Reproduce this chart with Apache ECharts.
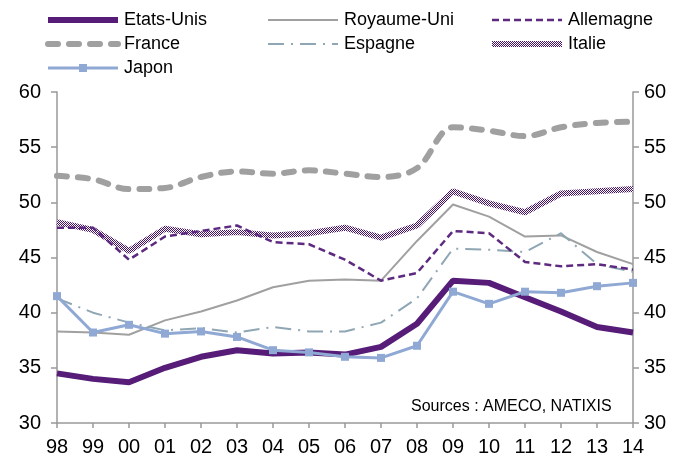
<!DOCTYPE html>
<html><head><meta charset="utf-8">
<script src="https://cdn.jsdelivr.net/npm/echarts@6/dist/echarts.min.js"></script>
<style>html,body{margin:0;padding:0;background:#fff}#c{width:692px;height:458px}</style>
</head><body><div id="c"></div>
<script>
const years = ['98','99','00','01','02','03','04','05','06','07','08','09','10','11','12','13','14'];
const etatsUnis  = [34.5,34.0,33.7,35.0,36.0,36.6,36.3,36.4,36.2,36.9,39.0,42.9,42.7,41.4,40.1,38.7,38.2];
const royaumeUni = [38.3,38.2,38.0,39.3,40.1,41.1,42.3,42.9,43.0,42.9,46.5,49.8,48.7,46.9,47.0,45.5,44.4];
const allemagne  = [47.7,47.7,44.8,46.9,47.4,47.9,46.4,46.2,44.8,42.9,43.6,47.4,47.2,44.6,44.2,44.4,43.9];
const france     = [52.4,52.1,51.2,51.3,52.3,52.8,52.6,52.9,52.6,52.3,53.1,56.8,56.5,56.0,56.8,57.2,57.3];
const espagne    = [41.3,40.0,39.1,38.4,38.6,38.2,38.7,38.3,38.3,39.1,41.3,45.8,45.7,45.5,47.2,44.4,43.7];
const italie     = [48.2,47.5,45.6,47.6,47.1,47.3,47.0,47.2,47.7,46.8,47.9,51.0,49.9,49.1,50.8,51.0,51.2];
const japon      = [41.5,38.2,38.9,38.1,38.3,37.8,36.6,36.4,36.0,35.9,37.0,41.9,40.8,41.9,41.8,42.4,42.7];
const yTicks = [30,35,40,45,50,55,60];

// checkered pattern for Italie
const pc = document.createElement('canvas');
pc.width = 2; pc.height = 2;
const pctx = pc.getContext('2d');
pctx.fillStyle = '#ffffff'; pctx.fillRect(0,0,2,2);
pctx.fillStyle = '#4a0f6c'; pctx.fillRect(0,0,1,1); pctx.fillRect(1,1,1,1);
const italiePattern = {image: pc, repeat: 'repeat'};

const font = 'Liberation Sans, Arial, sans-serif';
const chart = echarts.init(document.getElementById('c'), null, {renderer:'canvas'});
function line(name, data, ls, extra) {
  return Object.assign({
    name, type:'line', data, symbol:'none', showSymbol:false,
    lineStyle: ls, itemStyle:{color: ls.color}, emphasis:{disabled:true}, animation:false
  }, extra || {});
}
function li(name, w, extra) {
  return Object.assign({name, lineStyle:{width:w}}, extra || {});
}
const legendBase = {orient:'vertical', itemWidth:70, itemHeight:10, itemGap:6, top:6,
  itemStyle:{opacity:0},
  textStyle:{fontFamily:font, fontSize:18, color:'#000', padding:[0,0,0,1]}, selectedMode:false};
const yAxisBase = {type:'value', min:yTicks[0], max:yTicks[yTicks.length-1], interval:5,
  axisLine:{show:true, lineStyle:{color:'#999', width:1.5}},
  axisTick:{show:true, length:6, lineStyle:{color:'#999', width:1.5}},
  splitLine:{show:false}};
chart.setOption({
  animation:false,
  textStyle:{fontFamily:font},
  legend:[
    Object.assign({}, legendBase, {left:40, data:[li('Etats-Unis',6), li('France',6), li('Japon',3,{itemStyle:{opacity:1}})]}),
    Object.assign({}, legendBase, {left:262, data:[li('Royaume-Uni',2), li('Espagne',2)]}),
    Object.assign({}, legendBase, {left:484, data:[li('Allemagne',2.5), li('Italie',6)]})
  ],
  grid:{left:57, right:59, top:92, bottom:35},
  xAxis:{type:'category', data:years, boundaryGap:false,
    axisLine:{lineStyle:{color:'#999', width:1.5}},
    axisTick:{show:true, length:5, lineStyle:{color:'#999', width:1.5}},
    axisLabel:{color:'#000', fontSize:20, fontFamily:font, margin:14}},
  yAxis:[
    Object.assign({}, yAxisBase, {position:'left', axisLabel:{color:'#000', fontSize:20, fontFamily:font, margin:16}}),
    Object.assign({}, yAxisBase, {position:'right', axisLabel:{color:'#000', fontSize:20, fontFamily:font, margin:11}})
  ],
  graphic:[{type:'text', left:411, top:399, style:{text:'Sources : AMECO, NATIXIS', fontSize:16, fontFamily:font, fill:'#000'}}],
  series:[
    line('France', france, {color:'#a0a0a0', width:6, type:[10,11], cap:'round'}, {smooth:0.35}),
    line('Royaume-Uni', royaumeUni, {color:'#a0a0a0', width:2}),
    line('Espagne', espagne, {color:'#8fa6b4', width:2, type:[16,7,2,7]}),
    line('Italie', italie, {color:italiePattern, width:6}),
    line('Allemagne', allemagne, {color:'#5e2a80', width:2.5, type:[7,4]}),
    line('Etats-Unis', etatsUnis, {color:'#561c77', width:6}),
    line('Japon', japon, {color:'#8fa8d4', width:3}, {symbol:'rect', symbolSize:8, showSymbol:true, itemStyle:{color:'#8fa8d4'}})
  ]
});
</script></body></html>
